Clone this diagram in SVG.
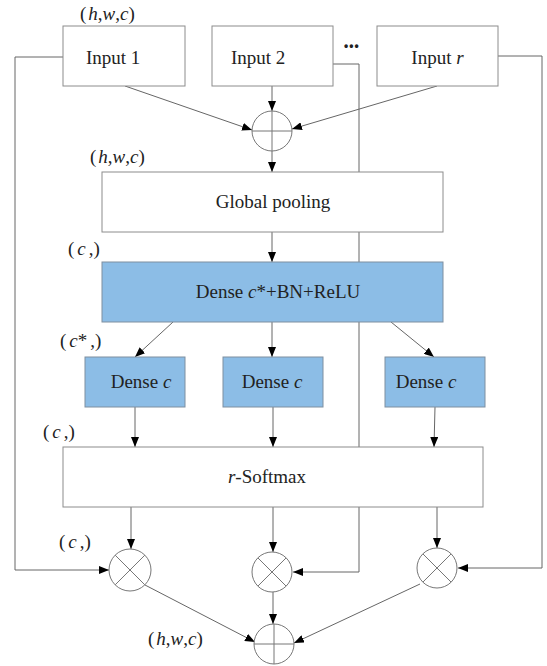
<svg xmlns="http://www.w3.org/2000/svg" width="547" height="666" viewBox="0 0 547 666">
<defs>
<marker id="ah" markerUnits="userSpaceOnUse" markerWidth="10" markerHeight="8" refX="10" refY="4" orient="auto">
<path d="M0,0 L10,4 L0,8 z" fill="#000"/>
</marker>
<style>
.bx{fill:#fff;stroke:#8c8c8c;stroke-width:1}
.bl{fill:#8cbde6;stroke:#7f8fa0;stroke-width:1}
.cn{fill:none;stroke:#777;stroke-width:1}
.ar{fill:none;stroke:#666;stroke-width:1;marker-end:url(#ah)}
.op{fill:#fff;stroke:#777;stroke-width:1}
.opl{stroke:#777;stroke-width:1}
.t{font-family:"Liberation Serif","Times New Roman",serif;font-size:19px;fill:#222}
.lb{font-family:"Liberation Serif","Times New Roman",serif;font-size:19px;fill:#222}
.i{font-style:italic}
</style>
</defs>
<rect width="547" height="666" fill="#fff"/>
<g id="connectors">
<path class="ar" d="M63,57 H15 V570 H109"/>
<path class="ar" d="M333,64 H359 V572 H293"/>
<path class="ar" d="M498,56 H542 V568 H458"/>
<path class="ar" d="M125,86 L252,130"/>
<path class="ar" d="M272,86 V111"/>
<path class="ar" d="M437,86 L292,129"/>
<path class="ar" d="M272,151 V172"/>
<path class="ar" d="M272,232 V262"/>
<path class="ar" d="M173,322 L135,357"/>
<path class="ar" d="M272,322 V357"/>
<path class="ar" d="M391,322 L434,357"/>
<path class="ar" d="M135,407 V447"/>
<path class="ar" d="M273,407 V447"/>
<path class="ar" d="M435,407 L434,447"/>
<path class="ar" d="M131,507 V549"/>
<path class="ar" d="M273,507 V552"/>
<path class="ar" d="M437,507 V548"/>
<path class="ar" d="M145,585 L255,642"/>
<path class="ar" d="M273,592 V624"/>
<path class="ar" d="M420,584 L294,643"/>
</g>
<g id="input1"><rect class="bx" x="63" y="26" width="122" height="60"/><text class="t" x="86" y="64">Input 1</text></g>
<g id="input2"><rect class="bx" x="212" y="26" width="121" height="60"/><text class="t" x="231" y="64">Input 2</text></g>
<g id="dots"><text x="344" y="50" font-family="Liberation Sans, Arial, sans-serif" font-size="12" font-weight="bold" fill="#222" letter-spacing="1">•••</text></g>
<g id="inputr"><rect class="bx" x="377" y="26" width="121" height="60"/><text class="t" x="437.5" y="64" text-anchor="middle">Input <tspan class="i">r</tspan></text></g>
<g id="sum1"><circle class="op" cx="272" cy="131" r="20"/><path class="opl" d="M252,131 H292 M272,111 V151"/></g>
<g id="globalpool"><rect class="bx" x="102" y="172" width="341" height="60"/><text class="t" x="273" y="208" text-anchor="middle">Global pooling</text></g>
<g id="dense"><rect class="bl" x="102" y="262" width="341" height="60"/><text class="t" x="278" y="298" text-anchor="middle">Dense <tspan class="i">c</tspan>*+BN+ReLU</text></g>
<g id="densec1"><rect class="bl" x="85" y="357" width="100" height="50"/><text class="t" x="141" y="388" text-anchor="middle">Dense <tspan class="i">c</tspan></text></g>
<g id="densec2"><rect class="bl" x="223" y="357" width="100" height="50"/><text class="t" x="272" y="388" text-anchor="middle">Dense <tspan class="i">c</tspan></text></g>
<g id="densec3"><rect class="bl" x="385" y="357" width="100" height="50"/><text class="t" x="426" y="388" text-anchor="middle">Dense <tspan class="i">c</tspan></text></g>
<g id="softmax"><rect class="bx" x="63" y="447" width="420" height="60"/><text class="t" x="267" y="483" text-anchor="middle"><tspan class="i">r</tspan>-Softmax</text></g>
<g id="mul1"><circle class="op" cx="130" cy="570" r="21"/><path class="opl" d="M115.2,555.2 L144.8,584.8 M144.8,555.2 L115.2,584.8"/></g>
<g id="mul2"><circle class="op" cx="272" cy="572" r="20"/><path class="opl" d="M257.9,557.9 L286.1,586.1 M286.1,557.9 L257.9,586.1"/></g>
<g id="mul3"><circle class="op" cx="437" cy="568" r="20"/><path class="opl" d="M422.9,553.9 L451.1,582.1 M451.1,553.9 L422.9,582.1"/></g>
<g id="sum2"><circle class="op" cx="274" cy="644" r="20"/><path class="opl" d="M254,644 H294 M274,624 V664"/></g>
<g id="labels">
<text class="lb" x="80" y="20">(<tspan class="i" dx="2">h</tspan>,<tspan class="i">w</tspan>,<tspan class="i">c</tspan>)</text>
<text class="lb" x="90" y="163">(<tspan class="i" dx="2">h</tspan>,<tspan class="i">w</tspan>,<tspan class="i">c</tspan>)</text>
<text class="lb" x="68" y="255">(<tspan class="i" dx="3">c</tspan><tspan dx="3">,)</tspan></text>
<text class="lb" x="60" y="347">(<tspan class="i" dx="3">c</tspan>*<tspan dx="3">,)</tspan></text>
<text class="lb" x="43" y="438">(<tspan class="i" dx="3">c</tspan><tspan dx="3">,)</tspan></text>
<text class="lb" x="59" y="548">(<tspan class="i" dx="3">c</tspan><tspan dx="3">,)</tspan></text>
<text class="lb" x="148" y="645">(<tspan class="i" dx="2">h</tspan>,<tspan class="i">w</tspan>,<tspan class="i">c</tspan>)</text>
</g>
</svg>
